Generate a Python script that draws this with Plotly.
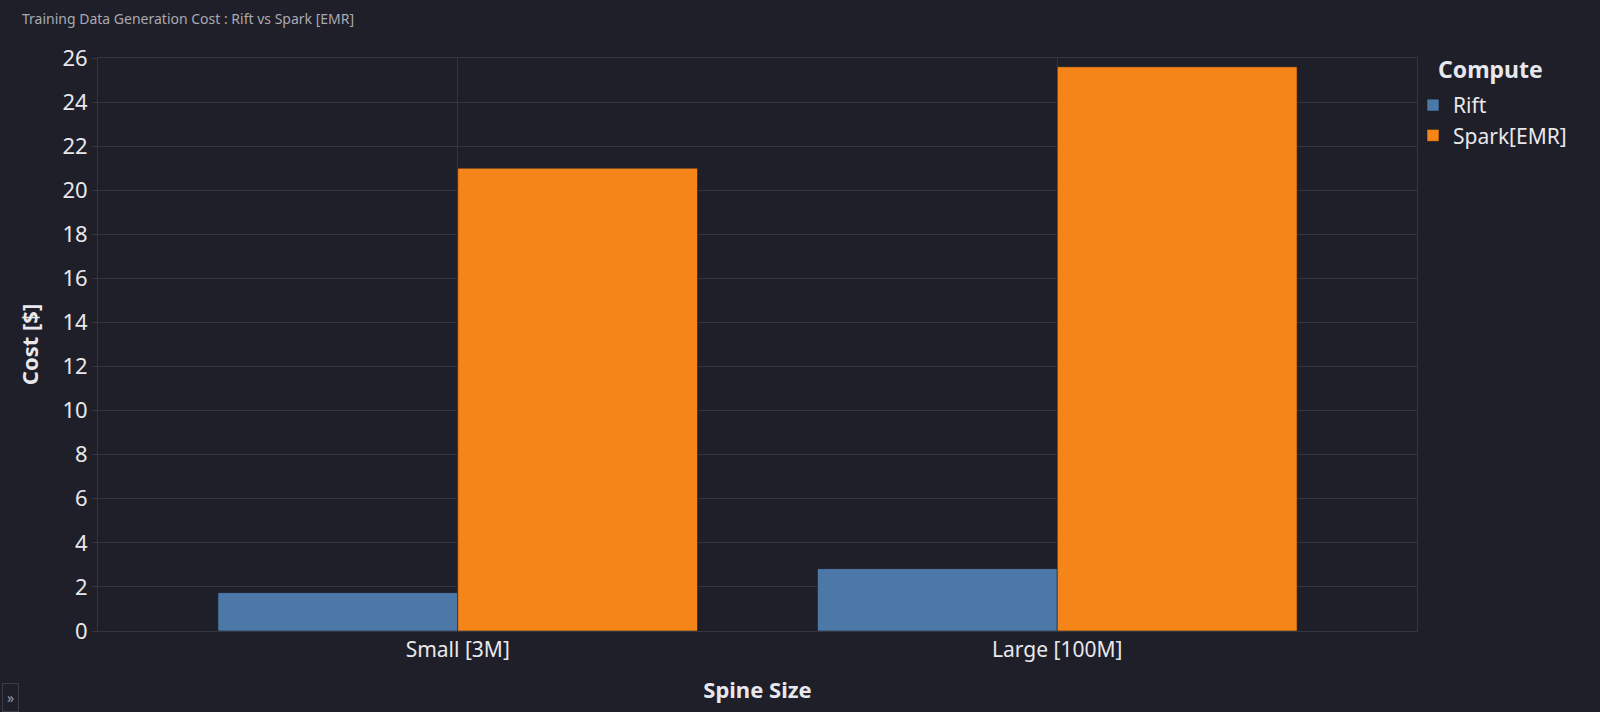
import plotly.graph_objects as go

# data
spine_sizes = ["Small [3M]", "Large [100M]"]
rift_cost = [1.74, 2.83]
spark_cost = [21.0, 25.6]

BG = "#1f1f29"
GRID = "#34353f"
TEXT = "#e8e8ec"
FONT = "Noto Sans"

fig = go.Figure()

fig.add_trace(go.Bar(x=spine_sizes, y=rift_cost, name="Rift",
                     marker=dict(color="#4c78a8",
                                 line=dict(color="rgba(20,20,28,0.5)", width=1))))
fig.add_trace(go.Bar(x=spine_sizes, y=spark_cost, name="Spark[EMR]",
                     marker=dict(color="#f58518",
                                 line=dict(color="rgba(20,20,28,0.5)", width=1))))

fig.update_layout(
    barmode="group",
    bargap=0.2,
    bargroupgap=0,
    width=1600,
    height=712,
    paper_bgcolor=BG,
    plot_bgcolor=BG,
    font=dict(family=FONT, color=TEXT, size=22),
    margin=dict(l=98, r=183, t=58, b=81),
    title=dict(text="Training Data Generation Cost : Rift vs Spark [EMR]",
               x=22 / 1600, xref="container", xanchor="left",
               y=1 - 14 / 712, yref="container", yanchor="top",
               font=dict(size=14, color="#a9aab3")),
    legend=dict(
        font=dict(size=21),
        x=1 - 4 / 1319, xanchor="left", y=0.953, yanchor="top",
        bgcolor="rgba(0,0,0,0)",
        tracegroupgap=2,
        itemwidth=30,
    ),
)

# legend title as its own text so it lines up with the swatches
fig.add_annotation(text="<b>Compute</b>", xref="paper", yref="paper",
                   x=1.0144, y=0.981, xanchor="left", yanchor="middle",
                   showarrow=False, font=dict(size=23, color=TEXT))

fig.update_xaxes(
    title=dict(text="<b>Spine Size</b>", font=dict(size=22), standoff=20),
    range=[-0.6, 1.6],
    showgrid=True, gridcolor=GRID, gridwidth=1,
    showline=True, linecolor=GRID, linewidth=1, mirror=True,
    tickfont=dict(size=21),
    ticks="", zeroline=False,
)
fig.update_yaxes(
    title=dict(text="<b>Cost [$]</b>", font=dict(size=22), standoff=17),
    range=[0, 26], dtick=2,
    showgrid=True, gridcolor=GRID, gridwidth=1,
    showline=True, linecolor=GRID, linewidth=1, mirror=True,
    ticks="outside", ticklen=5, tickcolor=GRID,
    tickfont=dict(size=22),
    zeroline=False,
)

fig.add_annotation(text="»", xref="paper", yref="paper", x=-0.0728, y=-0.1414,
                   showarrow=False, font=dict(size=14, color="#9a9aa6"),
                   xanchor="left", yanchor="bottom",
                   bordercolor="#3a3b45", borderwidth=1, borderpad=4)

fig.write_html("out.html", config={"displayModeBar": False},
               post_script="document.body.style.margin='0';")
